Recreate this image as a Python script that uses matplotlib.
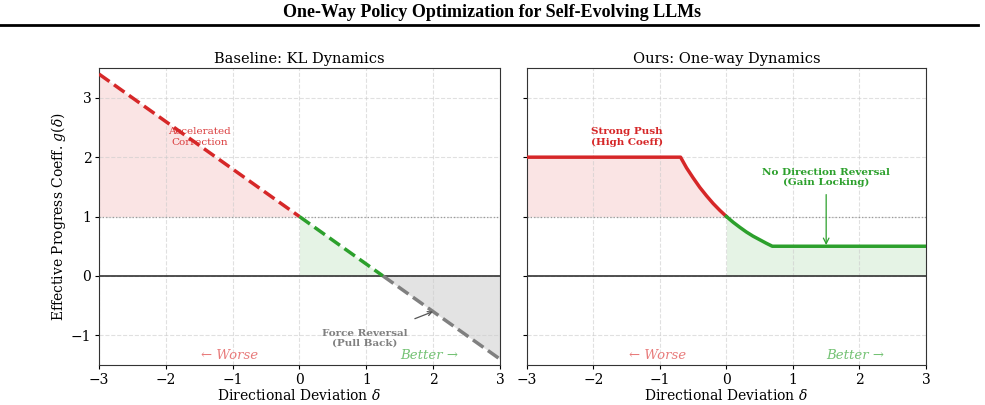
import numpy as np
import matplotlib
matplotlib.use("Agg")
import matplotlib.pyplot as plt
from matplotlib.lines import Line2D

plt.rcParams['font.family'] = ['DejaVu Serif']
plt.rcParams['mathtext.fontset'] = 'dejavuserif'

# ---- data ----
# Baseline: straight line through these points
base_x = [-3.0, 0.0, 1.25, 3.0]
base_y = [3.4, 1.0, 0.0, -1.4]

# Ours: piecewise curve
ours_x = [-3.0, -0.69, -0.6, -0.5, -0.4, -0.3, -0.2, -0.1, 0.0,
          0.1, 0.2, 0.3, 0.4, 0.5, 0.6, 0.69, 3.0]
ours_y = [2.0, 2.0, 1.82, 1.65, 1.49, 1.35, 1.22, 1.105, 1.0,
          0.905, 0.82, 0.74, 0.67, 0.61, 0.55, 0.5, 0.5]

xticks = [-3, -2, -1, 0, 1, 2, 3]
yticks = [-1, 0, 1, 2, 3]

RED = '#d62728'
GREEN = '#2ca02c'
GRAY = '#808080'

fig = plt.figure(figsize=(9.85, 4.05), dpi=100)
ax1 = fig.add_axes([0.1005, 0.0988, 0.407, 0.733])
ax2 = fig.add_axes([0.535, 0.0988, 0.405, 0.733], sharey=ax1)

for ax in (ax1, ax2):
    ax.set_xlim(-3, 3)
    ax.set_ylim(-1.5, 3.5)
    ax.set_xticks(xticks)
    ax.set_yticks(yticks)
    ax.grid(True, linestyle='--', color='#cccccc', alpha=0.6, linewidth=0.8)
    ax.axhline(0, color='#333333', linewidth=1.2, zorder=2)
    ax.axhline(1, color='#999999', linestyle=':', linewidth=0.9, zorder=2)
    ax.tick_params(labelsize=10, length=3, pad=2.5)
    ax.set_xlabel(r'Directional Deviation $\delta$', fontsize=10, labelpad=1)
    for s in ax.spines.values():
        s.set_color('#333333')

# ---- baseline ----
bx = np.array(base_x); by = np.array(base_y)
ax1.plot(bx[0:2], by[0:2], color=RED, linestyle='--', linewidth=2.5, zorder=3)
ax1.fill_between(bx[0:2], by[0:2], 1, color=RED, alpha=0.12, linewidth=0)
ax1.plot(bx[1:3], by[1:3], color=GREEN, linestyle='--', linewidth=2.5, zorder=3)
ax1.fill_between(bx[1:3], by[1:3], 0, color=GREEN, alpha=0.12, linewidth=0)
ax1.plot(bx[2:4], by[2:4], color=GRAY, linestyle='--', linewidth=2.5, zorder=3)
ax1.fill_between(bx[2:4], by[2:4], 0, color=GRAY, alpha=0.22, linewidth=0)

ax1.set_title('Baseline: KL Dynamics', fontsize=10.5, pad=4)
ax1.set_ylabel(r'Effective Progress Coeff. $g(\delta)$', fontsize=10, labelpad=2)
ax1.text(-1.5, 2.34, 'Accelerated\nCorrection', color=RED, fontsize=7.5,
         ha='center', va='center', alpha=0.9)
ax1.annotate('Force Reversal\n(Pull Back)', xy=(2.0, -0.6), xytext=(0.98, -1.05),
             color=GRAY, fontsize=7.5, fontweight='bold', ha='center', va='center',
             arrowprops=dict(arrowstyle='->', color='#555555', lw=0.9,
                             shrinkA=14, shrinkB=0))
ax1.text(-1.04, -1.34, '← Worse', color='#e87b7b', fontsize=9.5, style='italic',
         ha='center', va='center')
ax1.text(1.94, -1.34, 'Better →', color='#74c274', fontsize=9.5, style='italic',
         ha='center', va='center')

# ---- ours ----
ox = np.array(ours_x); oy = np.array(ours_y)
neg = ox <= 0
pos = ox >= 0
ax2.plot(ox[neg], oy[neg], color=RED, linewidth=2.5, zorder=3)
ax2.fill_between(ox[neg], oy[neg], 1, color=RED, alpha=0.12, linewidth=0)
ax2.plot(ox[pos], oy[pos], color=GREEN, linewidth=2.5, zorder=3)
ax2.fill_between(ox[pos], oy[pos], 0, color=GREEN, alpha=0.12, linewidth=0)

ax2.set_title('Ours: One-way Dynamics', fontsize=10.5, pad=4)
plt.setp(ax2.get_yticklabels(), visible=False)
ax2.text(-1.5, 2.34, 'Strong Push\n(High Coeff)', color=RED, fontsize=7.5,
         fontweight='bold', ha='center', va='center')
ax2.text(1.5, 1.66, 'No Direction Reversal\n(Gain Locking)', color=GREEN,
         fontsize=7.5, fontweight='bold', ha='center', va='center')
ax2.annotate('', xy=(1.5, 0.52), xytext=(1.5, 1.37),
             arrowprops=dict(arrowstyle='->', color=GREEN, lw=0.9,
                             shrinkA=0, shrinkB=0))
ax2.text(-1.04, -1.34, '← Worse', color='#e87b7b', fontsize=9.5, style='italic',
         ha='center', va='center')
ax2.text(1.94, -1.34, 'Better →', color='#74c274', fontsize=9.5, style='italic',
         ha='center', va='center')

# ---- suptitle and rule ----
fig.text(0.5, 0.968, 'One-Way Policy Optimization for Self-Evolving LLMs',
         ha='center', va='center', fontsize=13, fontweight='bold',
         family='Liberation Serif')
fig.add_artist(Line2D([0.0, 0.993], [0.938, 0.938], color='black', linewidth=2,
                      transform=fig.transFigure))

fig.savefig('out.png', dpi=100)
